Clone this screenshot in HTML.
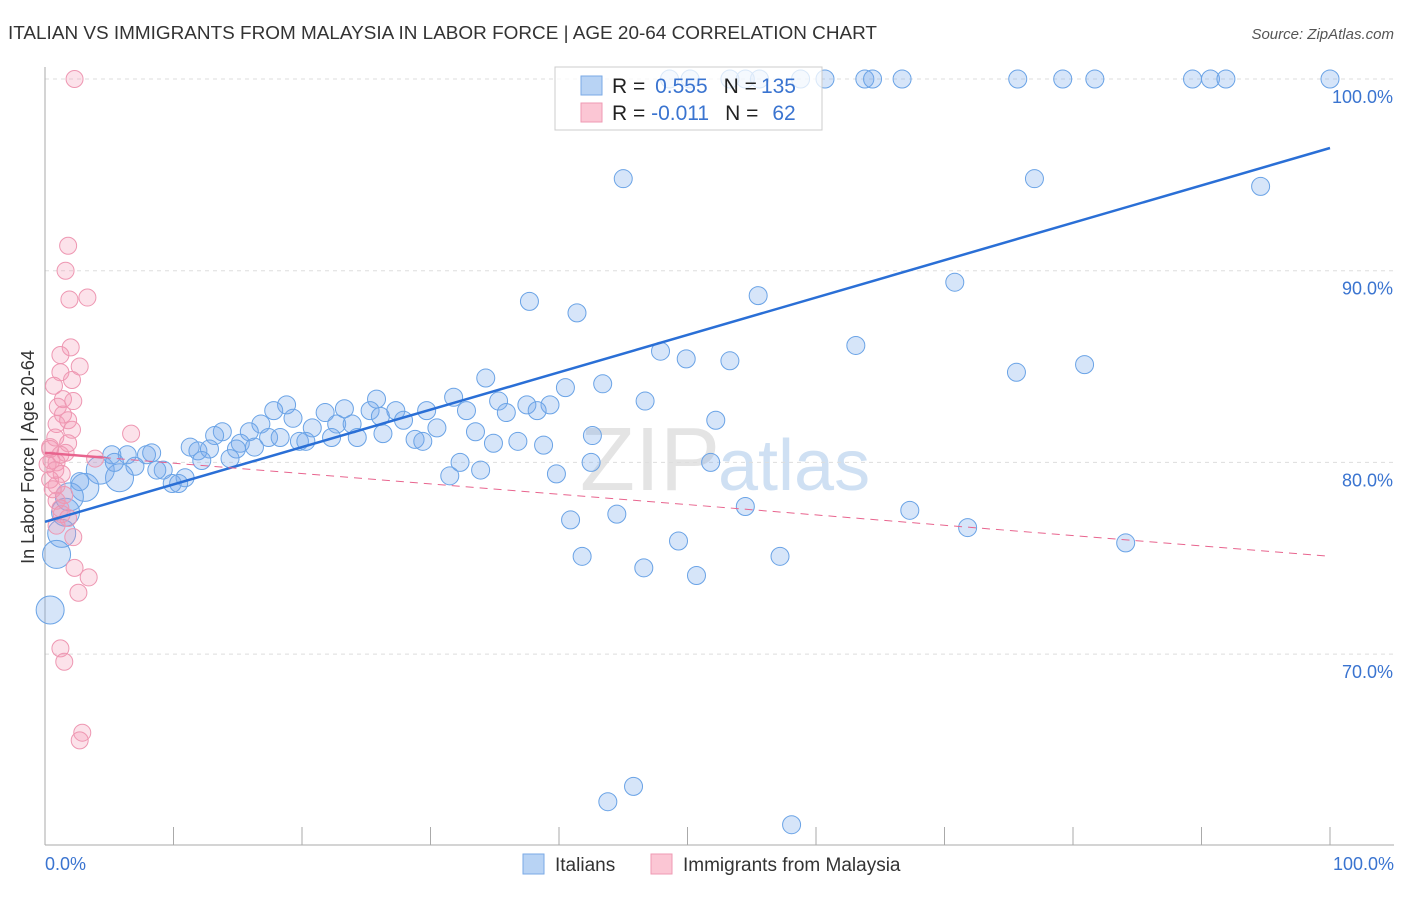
<!DOCTYPE html>
<html><head><meta charset="utf-8"><style>
body{margin:0;background:#fff;font-family:"Liberation Sans",sans-serif}
svg text{font-family:"Liberation Sans",sans-serif}
</style></head><body>
<svg id="c" width="1406" height="892">
<text x="8" y="39" font-size="18" fill="#333" textLength="869" lengthAdjust="spacingAndGlyphs">ITALIAN VS IMMIGRANTS FROM MALAYSIA IN LABOR FORCE | AGE 20-64 CORRELATION CHART</text>
<text x="1394" y="39" font-size="15" fill="#555" font-style="italic" text-anchor="end">Source: ZipAtlas.com</text>
<text x="720" y="490" font-size="90" fill="#e4e4e4" text-anchor="end" font-family="Liberation Serif">ZIP</text>
<text x="718" y="490" font-size="72" fill="#cfe0f3">atlas</text>
<text transform="translate(34,457) rotate(-90)" font-size="18" fill="#333" text-anchor="middle">In Labor Force | Age 20-64</text>
<g id="grid"></g><g id="axes"></g><g id="pts"></g><g id="trend"></g>
<g>
<rect x="555" y="67" width="267" height="63" fill="rgba(255,255,255,0.75)" stroke="#ccc"/>
<rect x="581" y="76" width="21" height="19" fill="#b8d3f4" stroke="#7aaae6"/>
<rect x="581" y="103" width="21" height="19" fill="#fbc6d4" stroke="#ef9ab3"/>
<text x="612" y="93" font-size="21" fill="#222">R = <tspan fill="#3a74d0" dx="4">0.555</tspan><tspan dx="16" fill="#222">N =</tspan><tspan dx="4" fill="#3a74d0">135</tspan></text>
<text x="612" y="120" font-size="21" fill="#222">R = <tspan fill="#3a74d0" dx="0">-0.011</tspan><tspan dx="16" fill="#222">N =</tspan><tspan dx="14" fill="#3a74d0">62</tspan></text>
</g>
<g>
<rect x="523" y="854" width="21" height="20" fill="#b8d3f4" stroke="#7aaae6"/>
<text x="555" y="871" font-size="19" fill="#333">Italians</text>
<rect x="651" y="854" width="21" height="20" fill="#fbc6d4" stroke="#ef9ab3"/>
<text x="683" y="871" font-size="19" fill="#333">Immigrants from Malaysia</text>
</g>
</svg>
<script>
const yTicks=[100,90,80,70];
const yTickLabels=["100.0%","90.0%","80.0%","70.0%"];
const xTickLabels=["0.0%","100.0%"];
const blueX=[48.6,50.2,53.3,54.5,55.6,58.8,60.7,63.8,64.4,66.7,75.7,79.2,81.7,89.3,90.7,91.9,100,45.0,77.0,94.6,37.7,41.4,55.5,70.8,63.1,47.9,49.9,53.3,75.6,80.9,34.3,43.4,40.5,46.7,52.2,25.8,31.8,35.3,37.5,39.3,18.8,17.8,21.8,23.3,25.3,27.3,29.7,32.8,35.9,38.3,19.3,16.8,20.8,22.7,23.9,26.1,27.9,30.5,33.5,13.8,15.9,13.2,17.4,18.3,19.8,20.3,22.3,24.3,26.3,28.8,29.4,34.9,36.8,38.8,42.6,15.2,16.3,11.3,11.9,12.8,14.9,14.4,12.2,7.9,8.3,6.4,5.2,7.0,9.2,8.7,10.9,9.9,10.4,32.3,31.5,33.9,39.8,42.5,51.8,40.9,44.5,49.3,54.5,67.3,71.8,84.1,41.8,46.6,50.7,57.2,43.8,45.8,58.1,4.3,5.8,3.1,1.9,1.6,1.3,0.9,0.4,2.7,5.4];
const blueY=[100,100,100,100,100,100,100,100,100,100,100,100,100,100,100,100,100,94.8,94.8,94.4,88.4,87.8,88.7,89.4,86.1,85.8,85.4,85.3,84.7,85.1,84.4,84.1,83.9,83.2,82.2,83.3,83.4,83.2,83.0,83.0,83.0,82.7,82.6,82.8,82.7,82.7,82.7,82.7,82.6,82.7,82.3,82.0,81.8,82.0,82.0,82.4,82.2,81.8,81.6,81.6,81.6,81.4,81.3,81.3,81.1,81.1,81.3,81.3,81.5,81.2,81.1,81.0,81.1,80.9,81.4,81.0,80.8,80.8,80.6,80.7,80.7,80.2,80.1,80.4,80.5,80.4,80.4,79.8,79.6,79.6,79.2,78.9,78.9,80.0,79.3,79.6,79.4,80.0,80.0,77.0,77.3,75.9,77.7,77.5,76.6,75.8,75.1,74.5,74.1,75.1,62.3,63.1,61.1,79.6,79.2,78.7,78.2,77.4,76.3,75.2,72.3,79.0,80.0];
const blueBig=[4.3,5.8,3.1,1.9,1.6,1.3,0.9,0.4];
const pinkX=[2.3,1.8,1.6,1.9,3.3,2.0,1.2,2.7,1.2,2.1,0.7,1.4,2.2,1.0,1.4,1.8,0.9,2.1,6.7,0.8,1.8,0.4,1.2,0.5,0.9,0.2,0.8,1.3,0.4,0.9,0.6,1.5,0.9,1.2,1.3,1.8,0.9,2.2,2.3,3.4,2.6,1.2,1.5,2.9,2.7,3.9,0.4,1.6];
const pinkY=[100,91.3,90.0,88.5,88.6,86.0,85.6,85.0,84.7,84.3,84.0,83.3,83.2,82.9,82.5,82.2,82.0,81.7,81.5,81.3,81.0,80.7,80.4,80.1,80.0,79.9,79.6,79.4,79.1,78.8,78.6,78.3,78.0,77.6,77.3,77.1,76.7,76.1,74.5,74.0,73.2,70.3,69.6,65.9,65.5,80.2,80.8,80.5];
const blueTrend=[76.9,96.4];
const pinkTrend=[80.5,75.1];
const NS="http://www.w3.org/2000/svg";
const X=v=>45+v*12.85, Y=v=>79+(100-v)*19.17;
function mk(t,a,p){const e=document.createElementNS(NS,t);for(const k in a)e.setAttribute(k,a[k]);document.getElementById(p).appendChild(e);return e;}
yTicks.forEach((t,i)=>{
 const l=mk('line',{x1:45,x2:1394,y1:Y(t),y2:Y(t),stroke:'#ddd','stroke-dasharray':'4,4'},'grid');
 
 
 const tx=mk('text',{x:1393,y:Y(t)+24,'font-size':18,fill:'#3a74d0','text-anchor':'end'},'grid');tx.textContent=yTickLabels[i];
 
 
});
mk('line',{x1:45,x2:45,y1:67,y2:845,stroke:'#aaa'},'axes');
mk('line',{x1:45,x2:1394,y1:845,y2:845,stroke:'#aaa'},'axes');
for(let i=0;i<=10;i++){const t=mk('line',{x1:X(i*10),x2:X(i*10),y1:827,y2:845,stroke:'#aaa'},'axes');
 
 }
[[0,'start',45],[100,'end',1394]].forEach((d,i)=>{const t=mk('text',{x:d[2],y:870,'font-size':18,fill:'#3a74d0','text-anchor':d[1]},'axes');t.textContent=xTickLabels[i];
 
 });
blueX.forEach((x,i)=>{const big=blueBig.includes(x)&&i>=blueX.length-10;
 const c=mk('circle',{cx:X(x),cy:Y(blueY[i]),r:big?14:9,fill:'rgba(120,170,235,0.3)',stroke:'#6aa3e6','stroke-width':1},'pts');
 
 });
pinkX.forEach((x,i)=>{const c=mk('circle',{cx:X(x),cy:Y(pinkY[i]),r:8.5,fill:'rgba(245,150,180,0.28)',stroke:'#ee97b2','stroke-width':1},'pts');
 
 });
const bt=mk('line',{x1:X(0),y1:Y(blueTrend[0]),x2:X(100),y2:Y(blueTrend[1]),stroke:'#2a6fd6','stroke-width':2.5},'trend');


const py=v=>pinkTrend[0]+(pinkTrend[1]-pinkTrend[0])*v/100;
const p1=mk('line',{x1:X(0),y1:Y(py(0)),x2:X(4.5),y2:Y(py(4.5)),stroke:'#e8648e','stroke-width':2.5},'trend');


const p2=mk('line',{x1:X(4.5),y1:Y(py(4.5)),x2:X(100),y2:Y(py(100)),stroke:'#e8648e','stroke-width':1,'stroke-dasharray':'8,6'},'trend');


</script>
</body></html>
